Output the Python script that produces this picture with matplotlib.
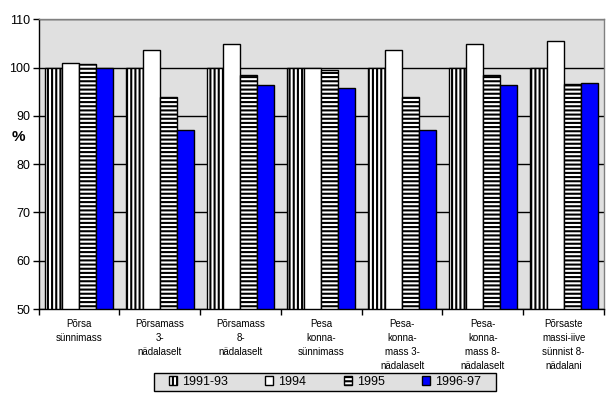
import matplotlib
matplotlib.use("Agg")
import matplotlib.pyplot as plt
from matplotlib.patches import Rectangle
import numpy as np

plt.rcParams['font.family'] = ['Liberation Sans', 'DejaVu Sans']
plt.rcParams['hatch.linewidth'] = 1.5

categories = ["Põrsa\nsünnimass", "Põrsamass\n3-\nnädalaselt", "Põrsamass\n8-\nnädalaselt",
              "Pesa\nkonna-\nsünnimass", "Pesa-\nkonna-\nmass 3-\nnädalaselt",
              "Pesa-\nkonna-\nmass 8-\nnädalaselt", "Põrsaste\nmassi-iive\nsünnist 8-\nnädalani"]
series_names = ["1991-93", "1994", "1995", "1996-97"]
v_1991_93 = [100, 100, 100, 100, 100, 100, 100]
v_1994 = [100.9, 103.7, 104.8, 100.0, 103.7, 104.8, 105.6]
v_1995 = [100.8, 94.0, 98.5, 99.6, 94.0, 98.5, 96.7]
v_1996_97 = [99.9, 87.0, 96.3, 95.7, 87.0, 96.3, 96.8]
yticks = [50, 60, 70, 80, 90, 100, 110]

series = [v_1991_93, v_1994, v_1995, v_1996_97]
styles = [dict(facecolor='white', hatch='||||'),
          dict(facecolor='white', hatch=''),
          dict(facecolor='white', hatch='----'),
          dict(facecolor='#0000ff', hatch='')]

W, H = 606, 397
fig = plt.figure(figsize=(W/100, H/100), dpi=100)
ax = fig.add_axes([38.5/W, 88/H, (604-38.5)/W, (309-19.3)/H])
ax.set_facecolor('#e0e0e0')

x = np.arange(len(categories))
w = 0.21
base = 50
for j, (name, vals, st) in enumerate(zip(series_names, series, styles)):
    ax.bar(x + (j - 1.5) * w, np.array(vals) - base, bottom=base, width=w,
           edgecolor='black', linewidth=1.0, label=name, zorder=3, **st)

ax.set_ylim(50, 110)
ax.set_xlim(-0.5, len(categories) - 0.5)
ax.set_yticks(yticks)
ax.yaxis.grid(True, color='black', linewidth=1.0, zorder=1)
ax.set_axisbelow(True)
ax.tick_params(axis='y', labelsize=9, direction='out', length=4, width=1, pad=2)

ax.set_xticks(x)
ax.set_xticklabels(categories, fontsize=7, linespacing=1.5, va='top')
ax.tick_params(axis='x', which='major', length=0, pad=7)
ax.set_xticks(np.arange(-0.5, len(categories)), minor=True)
ax.tick_params(axis='x', which='minor', length=4, width=1, direction='out')

for s in ['left', 'bottom']:
    ax.spines[s].set_color('black')
    ax.spines[s].set_linewidth(1.0)
for s in ['top', 'right']:
    ax.spines[s].set_color('#808080')
    ax.spines[s].set_linewidth(1.0)

fig.text(18/W, 1 - 137/H, '%', fontsize=11, fontweight='bold', ha='center', va='center')

# legend box frame
fig.patches.append(Rectangle((154/W, (H-391)/H), (496-154)/W, 18/H, transform=fig.transFigure,
                             facecolor='#e0e0e0', edgecolor='black', linewidth=1.0, zorder=1))
leg = fig.legend(loc='center', bbox_to_anchor=(325/W, (H-382)/H), ncol=4, fontsize=9,
                 frameon=False, handlelength=0.65, handleheight=0.65, handletextpad=0.4,
                 columnspacing=3.0, borderpad=0.2)
leg.set_zorder(5)

fig.savefig('out.png', dpi=100)
